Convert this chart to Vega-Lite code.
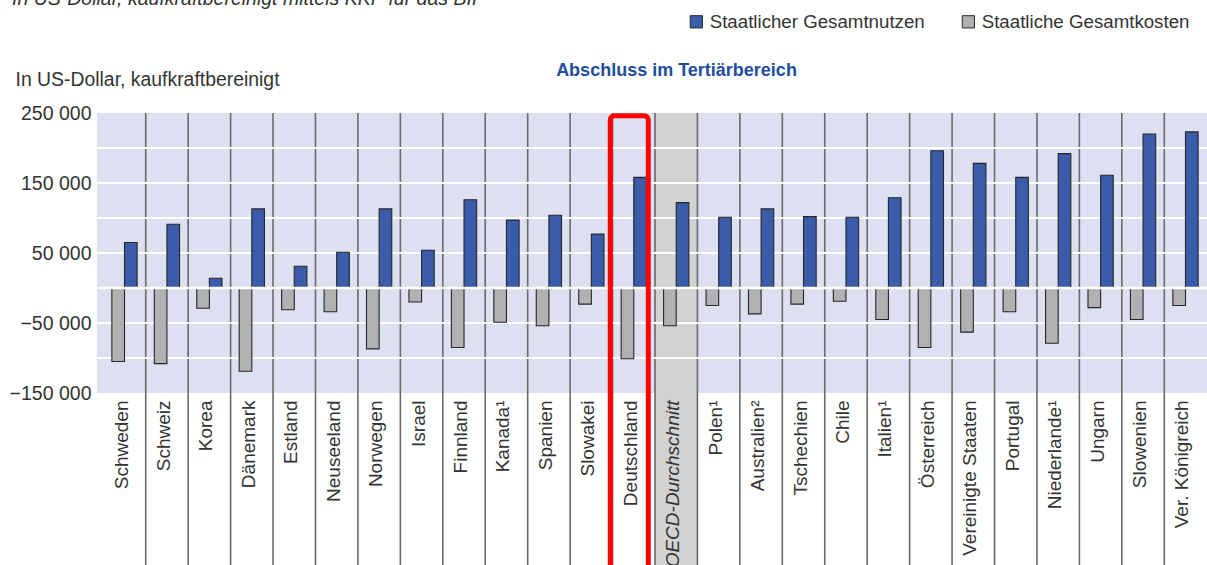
{
  "$schema": "https://vega.github.io/schema/vega-lite/v6.json",
  "autosize": {"type": "none"},
  "padding": {"left": 97, "top": 113, "right": 0, "bottom": 172},
  "width": 1116,
  "height": 280,
  "background": "white",
  "config": {
    "view": {"fill": "#dde0f0", "stroke": null},
    "font": "Liberation Sans",
    "locale": {"number": {"decimal": ",", "thousands": " ", "grouping": [3], "currency": ["", ""], "minus": "−"}},
    "axisY": {"labelOverlap": false, "labelFlush": false}
  },
  "title": {
    "text": "In US-Dollar, kaufkraftbereinigt mittels KKP für das BIP",
    "anchor": "start",
    "frame": "group",
    "dx": -85,
    "dy": 18,
    "offset": 6,
    "baseline": "alphabetic",
    "fontSize": 19.5,
    "font": "Liberation Sans",
    "fontStyle": "italic",
    "fontWeight": "normal",
    "color": "#333333"
  },
  "datasets": {
    "bars": [
      {"country": "Schweden", "type": "Staatlicher Gesamtnutzen", "value": 65000},
      {"country": "Schweden", "type": "Staatliche Gesamtkosten", "value": -105000},
      {"country": "Schweiz", "type": "Staatlicher Gesamtnutzen", "value": 91000},
      {"country": "Schweiz", "type": "Staatliche Gesamtkosten", "value": -108000},
      {"country": "Korea", "type": "Staatlicher Gesamtnutzen", "value": 14000},
      {"country": "Korea", "type": "Staatliche Gesamtkosten", "value": -29000},
      {"country": "Dänemark", "type": "Staatlicher Gesamtnutzen", "value": 113000},
      {"country": "Dänemark", "type": "Staatliche Gesamtkosten", "value": -119000},
      {"country": "Estland", "type": "Staatlicher Gesamtnutzen", "value": 31000},
      {"country": "Estland", "type": "Staatliche Gesamtkosten", "value": -31000},
      {"country": "Neuseeland", "type": "Staatlicher Gesamtnutzen", "value": 51000},
      {"country": "Neuseeland", "type": "Staatliche Gesamtkosten", "value": -34000},
      {"country": "Norwegen", "type": "Staatlicher Gesamtnutzen", "value": 113000},
      {"country": "Norwegen", "type": "Staatliche Gesamtkosten", "value": -87000},
      {"country": "Israel", "type": "Staatlicher Gesamtnutzen", "value": 54000},
      {"country": "Israel", "type": "Staatliche Gesamtkosten", "value": -20000},
      {"country": "Finnland", "type": "Staatlicher Gesamtnutzen", "value": 126000},
      {"country": "Finnland", "type": "Staatliche Gesamtkosten", "value": -85000},
      {"country": "Kanada¹", "type": "Staatlicher Gesamtnutzen", "value": 97000},
      {"country": "Kanada¹", "type": "Staatliche Gesamtkosten", "value": -49000},
      {"country": "Spanien", "type": "Staatlicher Gesamtnutzen", "value": 104000},
      {"country": "Spanien", "type": "Staatliche Gesamtkosten", "value": -54000},
      {"country": "Slowakei", "type": "Staatlicher Gesamtnutzen", "value": 77000},
      {"country": "Slowakei", "type": "Staatliche Gesamtkosten", "value": -23000},
      {"country": "Deutschland", "type": "Staatlicher Gesamtnutzen", "value": 158000},
      {"country": "Deutschland", "type": "Staatliche Gesamtkosten", "value": -101000},
      {"country": "OECD-Durchschnitt", "type": "Staatlicher Gesamtnutzen", "value": 122000},
      {"country": "OECD-Durchschnitt", "type": "Staatliche Gesamtkosten", "value": -54000},
      {"country": "Polen¹", "type": "Staatlicher Gesamtnutzen", "value": 101000},
      {"country": "Polen¹", "type": "Staatliche Gesamtkosten", "value": -25000},
      {"country": "Australien²", "type": "Staatlicher Gesamtnutzen", "value": 113000},
      {"country": "Australien²", "type": "Staatliche Gesamtkosten", "value": -37000},
      {"country": "Tschechien", "type": "Staatlicher Gesamtnutzen", "value": 102000},
      {"country": "Tschechien", "type": "Staatliche Gesamtkosten", "value": -23000},
      {"country": "Chile", "type": "Staatlicher Gesamtnutzen", "value": 101000},
      {"country": "Chile", "type": "Staatliche Gesamtkosten", "value": -19000},
      {"country": "Italien¹", "type": "Staatlicher Gesamtnutzen", "value": 129000},
      {"country": "Italien¹", "type": "Staatliche Gesamtkosten", "value": -45000},
      {"country": "Österreich", "type": "Staatlicher Gesamtnutzen", "value": 196000},
      {"country": "Österreich", "type": "Staatliche Gesamtkosten", "value": -85000},
      {"country": "Vereinigte Staaten", "type": "Staatlicher Gesamtnutzen", "value": 178000},
      {"country": "Vereinigte Staaten", "type": "Staatliche Gesamtkosten", "value": -63000},
      {"country": "Portugal", "type": "Staatlicher Gesamtnutzen", "value": 158000},
      {"country": "Portugal", "type": "Staatliche Gesamtkosten", "value": -34000},
      {"country": "Niederlande¹", "type": "Staatlicher Gesamtnutzen", "value": 192000},
      {"country": "Niederlande¹", "type": "Staatliche Gesamtkosten", "value": -79000},
      {"country": "Ungarn", "type": "Staatlicher Gesamtnutzen", "value": 161000},
      {"country": "Ungarn", "type": "Staatliche Gesamtkosten", "value": -28000},
      {"country": "Slowenien", "type": "Staatlicher Gesamtnutzen", "value": 220000},
      {"country": "Slowenien", "type": "Staatliche Gesamtkosten", "value": -45000},
      {"country": "Ver. Königreich", "type": "Staatlicher Gesamtnutzen", "value": 223000},
      {"country": "Ver. Königreich", "type": "Staatliche Gesamtkosten", "value": -25000}
    ],
    "grid": [
      {"v": 200000}, {"v": 150000}, {"v": 100000}, {"v": 50000},
      {"v": -50000}, {"v": -100000}
    ]
  },
  "layer": [
    {
      "data": {"name": "bars"},
      "transform": [{"filter": "datum.country === 'OECD-Durchschnitt' && datum.type === 'Staatlicher Gesamtnutzen'"}],
      "mark": {"type": "rect", "fill": "#d2d2d2"},
      "encoding": {
        "x": {"field": "country", "type": "nominal"},
        "y": {"datum": 250000, "type": "quantitative"},
        "y2": {"datum": -400000}
      }
    },
    {
      "data": {"name": "bars"},
      "transform": [{"filter": "datum.country !== 'Schweden' && datum.type === 'Staatlicher Gesamtnutzen'"}],
      "mark": {"type": "rule", "stroke": "#6a6a6a", "strokeWidth": 1.6},
      "encoding": {
        "x": {"field": "country", "type": "nominal", "bandPosition": 0},
        "y": {"datum": 250000, "type": "quantitative"},
        "y2": {"datum": -400000}
      }
    },
    {
      "data": {"name": "grid"},
      "mark": {"type": "rule", "stroke": "#ffffff", "strokeWidth": 2.2},
      "encoding": {
        "y": {"field": "v", "type": "quantitative", "title": "In US-Dollar, kaufkraftbereinigt"}
      }
    },
    {
      "data": {"name": "bars"},
      "mark": {"type": "bar", "stroke": "#262626", "strokeWidth": 1.1},
      "encoding": {
        "x": {
          "field": "country",
          "type": "nominal",
          "scale": {
            "domain": ["Schweden", "Schweiz", "Korea", "Dänemark", "Estland", "Neuseeland", "Norwegen", "Israel", "Finnland", "Kanada¹", "Spanien", "Slowakei", "Deutschland", "OECD-Durchschnitt", "Polen¹", "Australien²", "Tschechien", "Chile", "Italien¹", "Österreich", "Vereinigte Staaten", "Portugal", "Niederlande¹", "Ungarn", "Slowenien", "Ver. Königreich"],
            "paddingInner": 0,
            "paddingOuter": 0.148
          },
          "axis": {
            "title": "Abschluss im Tertiärbereich",
            "titleX": 579,
            "titleY": -318,
            "titleAlign": "center",
            "titleBaseline": "alphabetic",
            "titleFontWeight": "bold",
            "titleFontSize": 18,
            "titleFont": "Liberation Sans",
            "titleColor": "#1f4e9c",
            "labelAngle": -90,
            "labelAlign": "right",
            "labelBaseline": "middle",
            "labelPadding": 7,
            "labelOffset": -3,
            "labelFontSize": 19,
            "labelFont": "Liberation Sans",
            "labelColor": "#333333",
            "labelLimit": 0,
            "labelOverlap": false,
            "labelFontStyle": {"condition": {"test": "datum.value === 'OECD-Durchschnitt'", "value": "italic"}, "value": "normal"},
            "ticks": false,
            "domain": false,
            "grid": false,
            "zindex": 1
          }
        },
        "xOffset": {
          "field": "type",
          "type": "nominal",
          "scale": {"domain": ["Staatliche Gesamtkosten", "Staatlicher Gesamtnutzen"], "paddingInner": 0, "paddingOuter": 0.68}
        },
        "y": {
          "field": "value",
          "type": "quantitative",
          "scale": {"domain": [-150000, 250000], "nice": false, "zero": false},
          "axis": {
            "title": "In US-Dollar, kaufkraftbereinigt",
            "titleAngle": 0,
            "titleAlign": "left",
            "titleBaseline": "middle",
            "titleX": -82,
            "titleY": -34,
            "titleFontWeight": "normal",
            "titleFontSize": 19.4,
            "titleFont": "Liberation Sans",
            "titleColor": "#333333",
            "values": [-150000, -100000, -50000, 0, 50000, 100000, 150000, 200000, 250000],
            "format": ",d",
            "labelFontSize": 19.5,
            "labelFont": "Liberation Sans",
            "labelColor": "#333333",
            "labelPadding": 6,
            "labelOverlap": false,
            "labelSeparation": 0,
            "labelFlush": false,
            "ticks": false,
            "domain": false,
            "grid": false
          }
        },
        "color": {
          "field": "type",
          "type": "nominal",
          "scale": {"domain": ["Staatlicher Gesamtnutzen", "Staatliche Gesamtkosten"], "range": ["#3a5caa", "#b1b1b4"]},
          "legend": {
            "orient": "none",
            "legendX": 590,
            "legendY": -101,
            "direction": "horizontal",
            "title": null,
            "symbolType": "square",
            "symbolSize": 150,
            "symbolStrokeColor": "#262626",
            "symbolStrokeWidth": 1,
            "labelFontSize": 18.7,
            "labelFont": "Liberation Sans",
            "labelColor": "#333333",
            "labelOffset": 4,
            "labelLimit": 0,
            "columnPadding": 34
          }
        }
      }
    },
    {
      "data": {"name": "bars"},
      "transform": [{"filter": "datum.country === 'Schweden' && datum.type === 'Staatlicher Gesamtnutzen'"}],
      "mark": {"type": "rule", "stroke": "#ffffff", "strokeWidth": 2.4},
      "encoding": {
        "y": {"datum": 0, "type": "quantitative"}
      }
    },
    {
      "data": {"name": "bars"},
      "transform": [{"filter": "datum.country === 'Deutschland' && datum.type === 'Staatlicher Gesamtnutzen'"}],
      "mark": {"type": "bar", "filled": false, "stroke": "#ff0000", "strokeWidth": 5, "cornerRadius": 4, "width": 38, "xOffset": -4.5},
      "encoding": {
        "x": {"field": "country", "type": "nominal"},
        "y": {"datum": 246000, "type": "quantitative"},
        "y2": {"datum": -420000}
      }
    }
  ]
}
